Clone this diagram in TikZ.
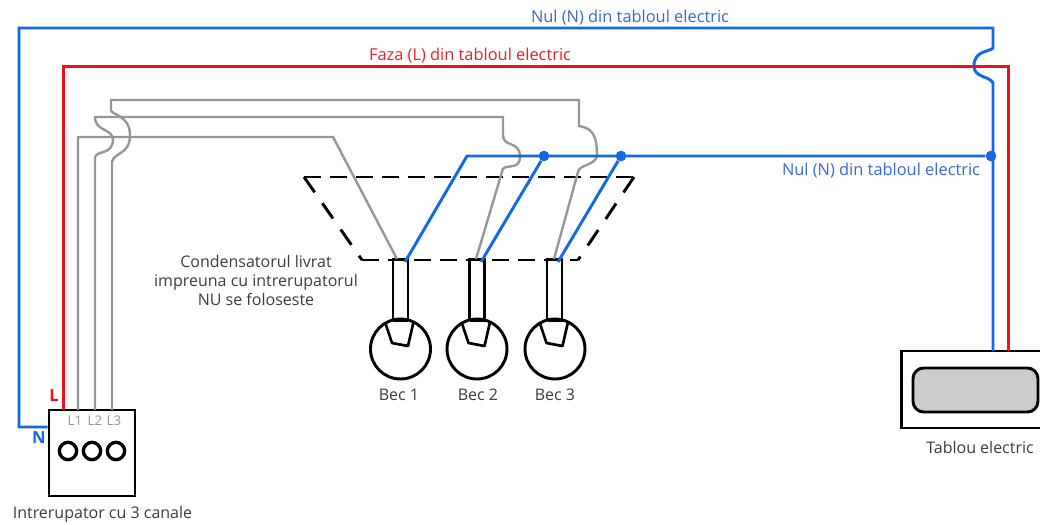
\documentclass[tikz,border=0pt]{standalone}
\usepackage{fontspec}
\setmainfont{Open Sans}
\definecolor{bluew}{HTML}{1268E6}
\definecolor{redw}{HTML}{F0101C}
\definecolor{grayw}{HTML}{969696}
\definecolor{bluet}{HTML}{3D66D2}
\definecolor{redt}{HTML}{E8202C}
\definecolor{grayt}{HTML}{3C3C3C}
\tikzset{
  bluewire/.style={draw=bluew,line width=2.2pt},
  redwire/.style={draw=redw,line width=2.2pt},
  graywire/.style={draw=grayw,line width=1.8pt},
  blk/.style={draw=black,line width=2.2pt},
  lbl/.style={font=\fontsize{12}{14}\selectfont,text=grayt,inner sep=0pt,align=center},
  bluelbl/.style={font=\fontsize{12.3}{14}\selectfont,text=bluet,inner sep=0pt},
  redlbl/.style={font=\fontsize{12.3}{14}\selectfont,text=redt,inner sep=0pt},
  dot/.style={circle,fill=bluew,inner sep=0pt,minimum size=8pt},
  lamp/.style={circle,draw=black,line width=2.2pt,minimum size=45pt,inner sep=0pt},
  swc/.style={circle,draw=black,line width=2.5pt,minimum size=13pt,inner sep=0pt},
  sock/.style={draw=black,line width=2.2pt,minimum width=11.25pt,minimum height=45pt,inner sep=0pt}
}
\begin{document}
\begin{tikzpicture}[x=0.75pt,y=-0.75pt]
\useasboundingbox (0,0) rectangle (1040,525);
% boxes
\node[blk,fill=white,minimum width=64.5pt,minimum height=64.5pt,inner sep=0pt] (sw) at (92,453) {};
\node[blk,minimum width=110pt,minimum height=57.75pt,inner sep=0pt] (tab) at (975,389.5) {};
\node[blk,fill=black!20,rounded corners=8pt,minimum width=93.75pt,minimum height=33pt,inner sep=0pt] (tabin) at (975.5,390) {};
\coordinate (swN) at (sw.west |- 0,427);
\coordinate (swL) at (63.5,410);
\coordinate (sw1) at (78,410);
\coordinate (sw2) at (95,410);
\coordinate (sw3) at (112,410);
\coordinate (tabN) at (993,351);
\coordinate (tabR) at (1008.5,351);
% switch holes
\node[swc] (h1) at (68,451) {};
\node[swc] (h2) at (92,451) {};
\node[swc] (h3) at (116,451) {};
% dashed capacitor
\coordinate (c1) at (304,177);
\coordinate (c2) at (634,177);
\coordinate (c3) at (578,260);
\coordinate (c4) at (362,260);
\draw[black,line width=2.2pt,dash pattern=on 12.5pt off 7pt] (c1) -- (c2);
\draw[black,line width=2.2pt,dash pattern=on 14pt off 10pt] (c2) -- (c3);
\draw[black,line width=2.2pt,dash pattern=on 14pt off 10pt] (c1) -- (c4);
\draw[black,line width=2.2pt,dash pattern=on 12.5pt off 7pt] (c4) -- (c3);
% sockets
\node[sock] (s1) at (400.5,289.5) {};
\node[sock] (s2) at (477,289.5) {};
\node[sock] (s3) at (554.5,289.5) {};
% lamps
\foreach \n/\x in {1/400.5,2/477,3/555}{
  \node[lamp] (b\n) at (\x,349) {};
  \draw[black,line width=2pt,line join=round] (\x-15.5,322) -- (\x-8.5,343) -- (\x+7.5,346) -- (\x+13,322);
  \draw[black,line width=3.2pt] (\x-7.5,320) -- (\x+7.5,320);
}
% gray wires
\draw[graywire] (sw1) -- (78,137) -- (333,137) -- (397,259);
\draw[graywire] (sw2) -- (95,157) .. controls (98,150) and (112,155) .. (113,140) .. controls (113,128) and (95,132) .. (95,117) -- (503,117) -- (503,135) .. controls (503,148) and (520,140) .. (520,157) .. controls (520,172) and (502,162) .. (502,172) -- (476,259);
\draw[graywire] (sw3) -- (112,162) .. controls (114,152) and (130,155) .. (130,135) .. controls (130,115) and (111,115) .. (111,110) -- (111,100) -- (579,100) -- (579,126) .. controls (590,128) and (597,132) .. (597,155) .. controls (597,165) and (578,165) .. (578,172) -- (554,259);
% blue wires
\node[dot] (j0) at (991,156) {};
\node[dot] (j1) at (544,156) {};
\node[dot] (j2) at (621,156) {};
\draw[bluewire] (swN) -- (19,427) -- (19,28) -- (993,28) -- (993,48) .. controls (990,52) and (974,50) .. (974,66) .. controls (974,78) and (990,76) .. (993,83) -- (tabN);
\draw[bluewire] (j0) -- (467,156) -- (405,262);
\draw[bluewire] (j1) -- (481,262);
\draw[bluewire] (j2) -- (558,262);
% red wire
\draw[redwire] (swL) -- (63.5,66.5) -- (1008.5,66.5) -- (tabR);
% labels
\node[bluelbl] (t1) at (630,18) {Nul (N) din tabloul electric};
\node[redlbl] (t2) at (470,55.5) {Faza (L) din tabloul electric};
\node[bluelbl] (t3) at (881,170.5) {Nul (N) din tabloul electric};
\node[lbl,align=center,font=\fontsize{12}{14.4}\selectfont] (t4) at (256,280.5) {Condensatorul livrat\\impreuna cu intrerupatorul\\NU se foloseste};
\node[lbl] (t5) at (399,395) {Bec 1};
\node[lbl] (t6) at (478,395) {Bec 2};
\node[lbl] (t7) at (555,395) {Bec 3};
\node[lbl] (t8) at (102.5,514) {Intrerupator cu 3 canale};
\node[lbl] (t9) at (980,447) {Tablou electric};
\node[font=\fontsize{12.5}{14}\selectfont\bfseries,text=redw,inner sep=0pt] (t10) at (54,396) {L};
\node[font=\fontsize{12.5}{14}\selectfont\bfseries,text=bluew,inner sep=0pt] (t11) at (39,438) {N};
\node[font=\fontsize{10}{12}\selectfont,text=grayw,inner sep=0pt] (t12) at (75,421) {L1};
\node[font=\fontsize{10}{12}\selectfont,text=grayw,inner sep=0pt] (t13) at (95,421) {L2};
\node[font=\fontsize{10}{12}\selectfont,text=grayw,inner sep=0pt] (t14) at (114,421) {L3};
\end{tikzpicture}
\end{document}
